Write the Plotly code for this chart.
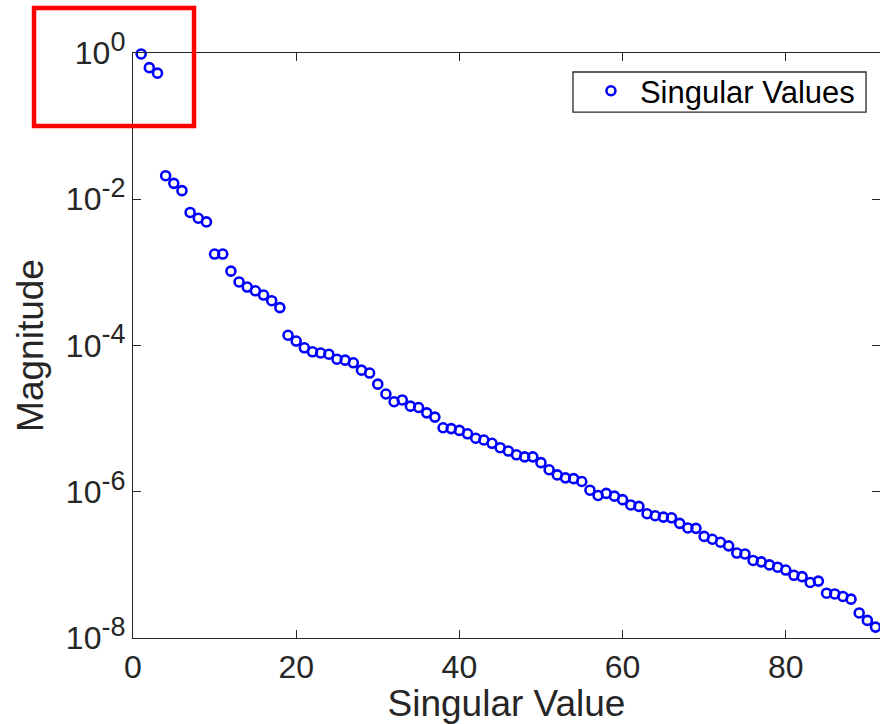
import plotly.graph_objects as go

index = list(range(1, 92))
singular_values = [
    0.97, 0.63, 0.53, 0.021, 0.0165, 0.0131, 0.0066, 0.0055, 0.0049, 0.00178,
    0.00178, 0.00104, 0.00074, 0.00063, 0.00056, 0.00049, 0.00041, 0.00033, 1.38e-4, 1.15e-4,
    9.3e-5, 8.2e-5, 7.9e-5, 7.6e-5, 6.5e-5, 6.3e-5, 5.8e-5, 4.6e-5, 4.2e-5, 2.96e-5,
    2.17e-5, 1.7e-5, 1.8e-5, 1.48e-5, 1.42e-5, 1.2e-5, 1.05e-5, 7.5e-6, 7.3e-6, 6.9e-6,
    6.2e-6, 5.4e-6, 5.1e-6, 4.6e-6, 4.0e-6, 3.6e-6, 3.2e-6, 3.0e-6, 3.0e-6, 2.5e-6,
    2.0e-6, 1.7e-6, 1.55e-6, 1.51e-6, 1.38e-6, 1.05e-6, 8.9e-7, 9.5e-7, 8.7e-7, 7.8e-7,
    6.6e-7, 6.3e-7, 5.0e-7, 4.7e-7, 4.5e-7, 4.4e-7, 3.7e-7, 3.2e-7, 3.16e-7, 2.45e-7,
    2.24e-7, 2.04e-7, 1.82e-7, 1.45e-7, 1.41e-7, 1.15e-7, 1.10e-7, 1.0e-7, 9.3e-8, 8.5e-8,
    7.2e-8, 6.9e-8, 5.75e-8, 6.0e-8, 4.1e-8, 4.0e-8, 3.7e-8, 3.4e-8, 2.2e-8, 1.74e-8,
    1.41e-8,
]

x_ticks = [0, 20, 40, 60, 80]
y_tickvals = [1e-8, 1e-6, 1e-4, 1e-2, 1e0]
y_exponents = ["-8", "-6", "-4", "-2", "0"]
y_ticktext = ["10<sup><span style='font-size:27px'>%s</span></sup>" % e for e in y_exponents]

FONT = "Liberation Sans, Arial, Helvetica, sans-serif"
AXC = "#262626"

fig = go.Figure()
fig.add_trace(go.Scatter(
    x=index, y=singular_values, mode="markers", name="Singular Values",
    marker=dict(symbol="circle-open", size=9, color="#0000ff", line=dict(width=2.6, color="#0000ff")),
    cliponaxis=False,
))

fig.update_layout(
    width=880, height=724,
    margin=dict(l=133, r=0, t=53, b=86),
    paper_bgcolor="white", plot_bgcolor="white",
    font=dict(family=FONT, color=AXC),
    showlegend=True,
    legend=dict(
        x=0.601, y=0.981, xanchor="left", yanchor="top",
        borderwidth=0, bgcolor="rgba(0,0,0,0)",
        font=dict(size=31, color="black", family=FONT),
        itemwidth=48,
    ),
    shapes=[
        dict(
            type="rect", xref="paper", yref="paper",
            x0=-0.1325, x1=0.0817, y0=0.8752, y1=1.0769,
            line=dict(color="#ff0000", width=4.5), fillcolor="rgba(0,0,0,0)",
        ),
        dict(
            type="rect", xref="paper", yref="paper",
            x0=0.5890, x1=0.9813, y0=0.8991, y1=0.9675,
            line=dict(color=AXC, width=1.3), fillcolor="rgba(0,0,0,0)", layer="above",
        ),
    ],
)

fig.update_xaxes(
    range=[0, 91.55], tickvals=x_ticks, ticks="inside", ticklen=8, tickwidth=1.3,
    tickcolor=AXC, showline=True, linecolor=AXC, linewidth=1.3, mirror="ticks",
    showgrid=False, zeroline=False, tickfont=dict(size=32, color=AXC),
    title=dict(text="Singular Value", font=dict(size=37, color=AXC), standoff=1),
)
fig.update_yaxes(
    type="log", range=[-8, 0], tickvals=y_tickvals, ticktext=y_ticktext,
    ticks="inside", ticklen=8, tickwidth=1.3, tickcolor=AXC,
    showline=True, linecolor=AXC, linewidth=1.3, mirror="ticks",
    showgrid=False, zeroline=False, tickfont=dict(size=32, color=AXC),
    title=dict(text="Magnitude", font=dict(size=37, color=AXC), standoff=10),
)

fig.write_html("out.html")
